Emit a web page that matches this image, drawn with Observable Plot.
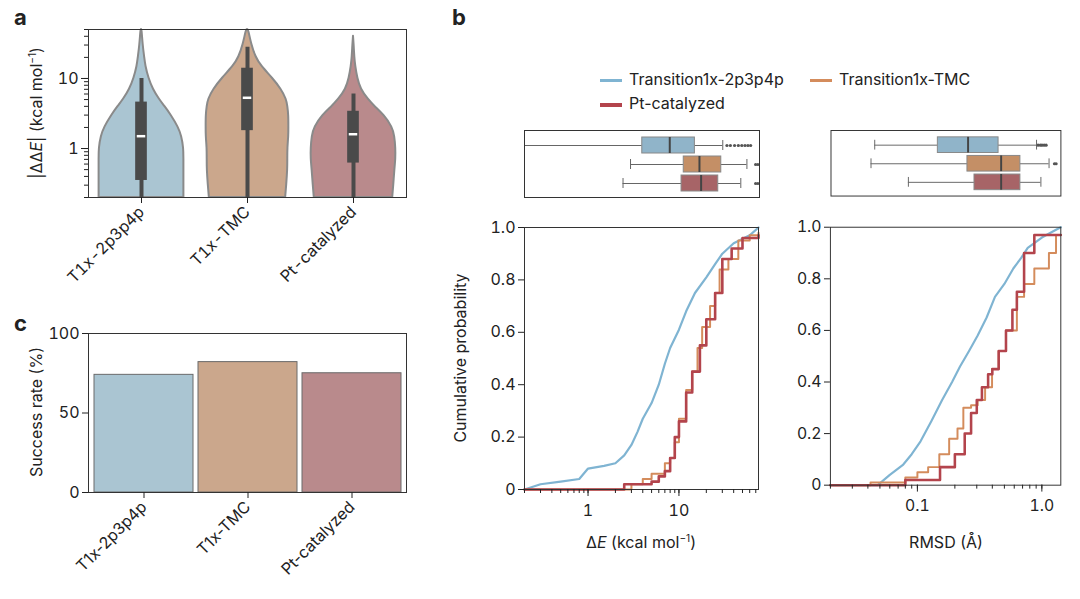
<!DOCTYPE html>
<html><head><meta charset="utf-8">
<script src="https://cdn.jsdelivr.net/npm/d3@7"></script>
<script src="https://cdn.jsdelivr.net/npm/@observablehq/plot@0.6"></script>
<style>
body{margin:0;background:#fff;font-family:Inter,"Liberation Sans",sans-serif;color:#222}
#root{position:relative;width:1080px;height:599px;overflow:hidden}
.p{position:absolute}
.lab{position:absolute;font-size:16px;white-space:nowrap}
.pl{position:absolute;font-weight:bold;font-size:22px}
svg{overflow:visible}
</style></head><body><div id="root"></div>
<script>
const groups = ["T1x-2p3p4p","T1x-TMC","Pt-catalyzed"];
const seriesNames = ["Transition1x-2p3p4p","Transition1x-TMC","Pt-catalyzed"];
const violinFill = ["#aac5d2","#cba78c","#b98a8c"];
const boxFill = ["#90b4c9","#c48f66","#a76467"];
const lineColor = ["#7fb4d2","#d48c5c","#b3444c"];
// violin profiles: value, half-width (category units)
const violinV = [0.2,0.3,0.5,0.7,1,1.5,2,3,4,5,7,10,15,20,30,50];
const violinW = [
 [0.40,0.40,0.40,0.40,0.40,0.38,0.35,0.28,0.22,0.17,0.11,0.07,0.04,0.03,0.015,0.005],
 [0.36,0.37,0.38,0.38,0.38,0.39,0.39,0.39,0.38,0.37,0.32,0.24,0.13,0.08,0.04,0.01],
 [0.37,0.38,0.39,0.40,0.40,0.39,0.37,0.29,0.2,0.14,0.07,0.04,0.02,0.012,0.006,0.002]];
const violinMax = [50,50,40];
const boxA = {lo:[0.2,0.2,0.2], q1:[0.35,1.8,0.62], med:[1.5,5.3,1.6], q3:[4.6,14,3.4], hi:[10,28,6]};
const success = [74,82,75];
// panel b boxes
const bxE = {lo:[0.2,2.9,2.4], q1:[3.9,11.1,10.5], med:[7.8,16.5,17.2], q3:[14.7,28.6,26.5], hi:[29.7,54.6,46.8]};
const outE = [[33,36,40,44,48,52,56,60],[68,72],[68,72]];
const bxR = {lo:[0.045,0.042,0.084], q1:[0.145,0.251,0.286], med:[0.254,0.469,0.469], q3:[0.447,0.67,0.67], hi:[0.904,1.14,0.98]};
const outR = [[0.93,0.97,1.0,1.04,1.08],[1.26,1.3],[]];
// ECDF curves
const eBlueX=[0.2,0.3,0.5,0.8,1,1.5,2,2.5,3,3.5,4,5,6,7,8,10,12,15,20,25,30,40,60,75];
const eBlueP=[0,0.02,0.03,0.04,0.08,0.09,0.1,0.13,0.17,0.22,0.27,0.33,0.4,0.48,0.54,0.61,0.68,0.75,0.81,0.86,0.9,0.94,0.97,1.0];
const eOrgX=[0.2,3,4,5,7,8,9,10,12,14,16,18,22,25,28,35,45,60,75];
const eOrgP=[0,0.02,0.04,0.06,0.1,0.12,0.18,0.27,0.38,0.45,0.54,0.62,0.7,0.75,0.84,0.88,0.95,0.97,0.98];
const eRedX=[0.2,2.5,5,6,7,8,9,10,12,14,17,20,25,30,38,50,75];
const eRedP=[0,0.02,0.03,0.05,0.07,0.12,0.2,0.26,0.37,0.45,0.55,0.65,0.75,0.88,0.92,0.96,0.97];
const rBlueX=[0.02,0.048,0.06,0.077,0.09,0.106,0.13,0.158,0.19,0.22,0.26,0.305,0.36,0.42,0.5,0.59,0.68,0.77,1.0,1.3,1.42];
const rBlueP=[0,0,0.04,0.08,0.12,0.17,0.25,0.33,0.4,0.46,0.52,0.58,0.65,0.73,0.78,0.84,0.88,0.92,0.96,0.99,1.0];
const rOrgX=[0.02,0.042,0.08,0.1,0.122,0.15,0.18,0.21,0.234,0.27,0.305,0.35,0.398,0.45,0.515,0.63,0.72,0.87,1.14,1.3,1.42];
const rOrgP=[0,0.01,0.03,0.05,0.07,0.12,0.18,0.22,0.3,0.31,0.33,0.38,0.45,0.52,0.6,0.73,0.78,0.84,0.9,0.97,0.97];
const rRedX=[0.02,0.08,0.152,0.2,0.24,0.27,0.3,0.33,0.37,0.4,0.45,0.515,0.58,0.63,0.72,0.87,1.3,1.42];
const rRedP=[0,0.02,0.07,0.12,0.2,0.28,0.33,0.38,0.43,0.45,0.52,0.6,0.68,0.75,0.9,0.97,0.97,0.97];

const root=document.getElementById("root");
const FONT="Inter, 'Liberation Sans', sans-serif";
function place(svg,x,y){const d=document.createElement("div");d.className="p";d.style.left=x+"px";d.style.top=y+"px";d.appendChild(svg);root.appendChild(d);}
function lab(html,x,y,rot){const d=document.createElement("div");d.className="lab";d.innerHTML=html;d.style.left=x+"px";d.style.top=y+"px";d.style.transform=rot?"translate(-50%,-50%) rotate(-90deg)":"translate(-50%,-50%)";root.appendChild(d);}
function plab(t,x,y){const d=document.createElement("div");d.className="pl";d.textContent=t;d.style.left=x+"px";d.style.top=y+"px";root.appendChild(d);}
const decades=(lo,hi)=>{const r=[];for(let e=-3;e<3;e++)for(let m=1;m<10;m++){const v=+(m*10**e).toPrecision(3);if(v>=lo-1e-9&&v<=hi+1e-9)r.push(v);}return r;};
const ST={fontFamily:FONT,fontSize:"16px",color:"#222"};

// ---- panel a
{
 const vdata=[];
 groups.forEach((g,i)=>{violinV.forEach((v,k)=>{if(v<=violinMax[i])vdata.push({g:i,v,w:violinW[i][k]});});vdata.push({g:i,v:violinMax[i],w:0});});
 const bx=groups.map((g,i)=>({i,lo:boxA.lo[i],q1:boxA.q1[i],med:boxA.med[i],q3:boxA.q3[i],hi:boxA.hi[i]}));
 const svg=Plot.plot({width:420,height:300,marginLeft:88,marginTop:29,marginRight:14,marginBottom:103,style:ST,
  x:{domain:[-0.5,2.5],axis:null},
  y:{type:"log",domain:[0.2,50],axis:null},
  marks:[
   Plot.areaX(vdata,{y:"v",x1:d=>d.g-d.w,x2:d=>d.g+d.w,z:"g",fill:d=>violinFill[d.g],stroke:"#8a8a8a",strokeWidth:2,curve:"basis"}),
   Plot.ruleX(bx,{x:"i",y1:"lo",y2:"hi",stroke:"#4a4a4a",strokeWidth:4}),
   Plot.rect(bx,{x1:d=>d.i-0.055,x2:d=>d.i+0.055,y1:"q1",y2:"q3",fill:"#4a4a4a"}),
   Plot.ruleY(bx,{y:"med",x1:d=>d.i-0.04,x2:d=>d.i+0.04,stroke:"white",strokeWidth:2.5}),
   Plot.frame({stroke:"#333"}),
   Plot.axisY({ticks:decades(0.2,50),tickFormat:()=>"",tickSize:4,label:null}),
   Plot.axisY({ticks:[1,10],tickFormat:d=>String(d),tickSize:7,label:null}),
   Plot.axisX({ticks:[0,1,2],tickFormat:i=>groups[i],tickRotate:-45,tickSize:6,textAnchor:"end",label:null})
  ]});
 place(svg,0,0);
 plab("a",14,4);
 lab("|ΔΔ<i>E</i>| (kcal mol<sup style='font-size:10px'>−1</sup>)",36,113,true);
}
// ---- panel c
{
 const d=groups.map((g,i)=>({g,v:success[i],i}));
 const svg=Plot.plot({width:420,height:300,marginLeft:88,marginTop:33,marginRight:14,marginBottom:108,style:ST,
  x:{domain:groups,padding:0.05,axis:null},
  y:{domain:[0,100],axis:null},
  marks:[
   Plot.barY(d,{x:"g",y:"v",fill:i=>violinFill[i.i],stroke:"#6a6a6a",strokeWidth:1}),
   Plot.frame({stroke:"#333"}),
   Plot.axisY({ticks:[0,50,100],tickSize:6,label:null}),
   Plot.axisX({tickRotate:-45,tickSize:6,textAnchor:"end",label:null})
  ]});
 place(svg,0,300);
 plab("c",14,310);
 lab("Success rate (%)",36,412,true);
}
// ---- panel b legend
plab("b",452,4);
{
 const items=[[0,600,80],[1,810,80],[2,600,104]];
 items.forEach(([i,x,y])=>{
  const s=document.createElement("div");s.className="p";s.style.left=x+"px";s.style.top=(y-1.5)+"px";s.style.width="22px";s.style.height=(i==2?"4px":"3px");s.style.background=lineColor[i];root.appendChild(s);
  const t=document.createElement("div");t.className="lab";t.textContent=seriesNames[i];t.style.left=(x+29)+"px";t.style.top=(y-11)+"px";root.appendChild(t);
 });
}
function boxPanel(dom,b,outs,left){
 const rows=groups.map((g,i)=>({g,i,lo:b.lo[i],q1:b.q1[i],med:b.med[i],q3:b.q3[i],hi:b.hi[i]}));
 const od=[];outs.forEach((a,i)=>a.forEach(v=>od.push({g:groups[i],v})));
 return Plot.plot({width:left+235+20,height:67,marginLeft:left,marginRight:20,marginTop:0,marginBottom:0,
  x:{type:"log",domain:dom,axis:null},
  y:{domain:groups,padding:0.18,axis:null,paddingOuter:0.35},
  marks:[
   Plot.ruleY(rows,{y:"g",x1:"lo",x2:"q1",stroke:"#666"}),
   Plot.ruleY(rows,{y:"g",x1:"q3",x2:"hi",stroke:"#666"}),
   Plot.tickX(rows,{y:"g",x:"lo",stroke:"#666",inset:3}),
   Plot.tickX(rows,{y:"g",x:"hi",stroke:"#666",inset:3}),
   Plot.barX(rows,{y:"g",x1:"q1",x2:"q3",fill:i=>boxFill[i.i],stroke:"#888"}),
   Plot.tickX(rows,{y:"g",x:"med",stroke:"#444",strokeWidth:2}),
   Plot.dot(od,{y:"g",x:"v",r:1.6,fill:"#555",stroke:null}),
   Plot.frame({stroke:"#333"})
  ]});
}
place(boxPanel([0.2,75],bxE,outE,24),500,130);
place(boxPanel([0.02,1.42],bxR,outR,24),807,130);

function ecdf(dom,curves,ticksLab,fmt,left){
 const data=[];curves.forEach(([xs,ps],i)=>xs.forEach((x,k)=>data.push({s:i,x,p:ps[k]})));
 return Plot.plot({width:left+234+20,height:349,marginLeft:left,marginRight:20,marginTop:17,marginBottom:70,style:ST,
  x:{type:"log",domain:dom,axis:null},
  y:{domain:[0,1],axis:null},
  marks:[
   Plot.line(data.filter(d=>d.s==0),{x:"x",y:"p",stroke:lineColor[0],strokeWidth:2.2,curve:"linear"}),
   Plot.line(data.filter(d=>d.s==1),{x:"x",y:"p",stroke:lineColor[1],strokeWidth:2,curve:"step-after"}),
   Plot.line(data.filter(d=>d.s==2),{x:"x",y:"p",stroke:lineColor[2],strokeWidth:2.6,curve:"step-after"}),
   Plot.frame({stroke:"#333"}),
   Plot.axisY({ticks:[0,0.2,0.4,0.6,0.8,1],tickFormat:d=>d===0?"0":d.toFixed(1),tickSize:6,label:null}),
   Plot.axisX({ticks:decades(dom[0],dom[1]),tickFormat:()=>"",tickSize:4,label:null}),
   Plot.axisX({ticks:ticksLab,tickFormat:fmt,tickSize:7,tickPadding:8,label:null})
  ]});
}
place(ecdf([0.2,75],[[eBlueX,eBlueP],[eOrgX,eOrgP],[eRedX,eRedP]],[1,10],d=>String(d),70),454,210);
place(ecdf([0.02,1.42],[[rBlueX,rBlueP],[rOrgX,rOrgP],[rRedX,rRedP]],[0.1,1],d=>d.toFixed(1),70),761,210);
lab("Cumulative probability",460,358,true);
lab("Δ<i>E</i> (kcal mol<sup style='font-size:10px'>−1</sup>)",641,542);
lab("RMSD (Å)",946,542);
</script></body></html>
